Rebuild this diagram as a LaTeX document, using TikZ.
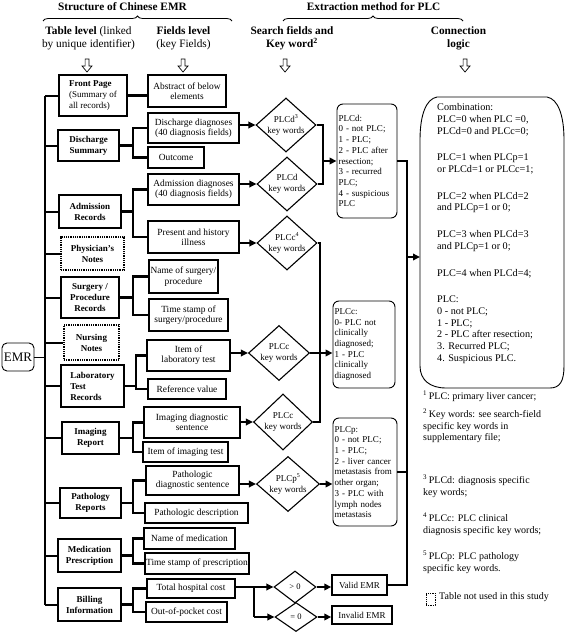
\documentclass[tikz,border=0pt]{standalone}
\usepackage{fontspec}
\setmainfont{Liberation Serif}
\usetikzlibrary{shapes.geometric,arrows.meta,decorations.pathreplacing}
\begin{document}
\begin{tikzpicture}[x=1pt,y=-1pt,
 sz/.style 2 args={minimum width=#1pt, minimum height=#2pt},
 box/.style={draw, line width=1.4pt, inner sep=1pt, align=center, font=\fontsize{9.4}{10.4}\selectfont},
 tbox/.style={box, font=\fontsize{9}{11}\selectfont},
 dbox/.style={tbox, line width=1.3pt, dash pattern=on 1pt off 0.8pt},
 rbox/.style={draw, line width=0.9pt, rounded corners=6pt, inner sep=1.5pt, align=left, font=\fontsize{9}{10.7}\selectfont},
 dia/.style={draw, diamond, line width=1.1pt, inner sep=0pt},
 dtext/.style={align=center, inner sep=0pt, font=\fontsize{9}{11}\selectfont},
 conn/.style={line width=2.4pt},
 spine/.style={line width=2pt},
 arr/.style={line width=2.4pt, -{Triangle[length=7pt,width=6.5pt]}},
 hdr/.style={align=center, inner sep=0pt, font=\fontsize{11.3}{13}\selectfont},
 fn/.style={align=left, inner sep=0pt, anchor=north west, font=\fontsize{10}{11.6}\selectfont},
 brc/.style={line width=0.8pt, decorate, decoration={brace, amplitude=5pt}},
 hollow/.pic={\draw[line width=0.7pt, fill=white] (-1.9,0) -- (1.9,0) -- (1.9,7) -- (5,7) -- (0,13) -- (-5,7) -- (-1.9,7) -- cycle;}
]
\useasboundingbox (0,0) rectangle (567,634);

% ---------- headers ----------
\node[hdr] (h1) at (122.5,7) {\textbf{Structure of Chinese EMR}};
\node[hdr] (h2) at (373.5,7) {\textbf{Extraction method for PLC}};
\draw[brc] (43,21) -- (232,21);
\draw[brc] (283,21) -- (463,21);
\node[hdr] (h3) at (88.5,38.5) {\textbf{Table level} (linked\\by unique identifier)};
\node[hdr] (h4) at (183.5,38.5) {\textbf{Fields level}\\(key Fields)};
\node[hdr] (h5) at (292,38.5) {\textbf{Search fields and}\\\textbf{Key word\textsuperscript{2}}};
\node[hdr] (h6) at (458.5,38.5) {\textbf{Connection}\\\textbf{logic}};
\pic at (87,59) {hollow};
\pic at (183,59) {hollow};
\pic at (285,59) {hollow};
\pic at (465,59) {hollow};

% ---------- EMR ----------
\node[draw, line width=0.9pt, rounded corners=5pt, sz={32}{28}, inner sep=0pt, font=\fontsize{13}{14}\selectfont] (emr) at (18,357) {EMR};

% ---------- table level ----------
\node[tbox, align=left, sz={68}{41}] (front) at (93,95.5) {\textbf{Front Page}\\(Summary of\\all records)};
\node[tbox, sz={61}{31}] (disch) at (88.5,145.5) {\textbf{Discharge}\\\textbf{Summary}};
\node[tbox, sz={62}{33}] (adm) at (90,211.5) {\textbf{Admission}\\\textbf{Records}};
\node[dbox, sz={63}{33}] (phys) at (92.5,253.5) {\textbf{Physician's}\\\textbf{Notes}};
\node[tbox, sz={58}{41}] (surg) at (90,297.5) {\textbf{Surgery /}\\\textbf{Procedure}\\\textbf{Records}};
\node[dbox, sz={55}{35}] (nurs) at (91.5,342.5) {\textbf{Nursing}\\\textbf{Notes}};
\node[tbox, align=left, sz={63}{42}] (lab) at (92.5,386) {\textbf{Laboratory}\\\textbf{Test}\\\textbf{Records}};
\node[tbox, sz={57}{32}] (img) at (90.5,438) {\textbf{Imaging}\\\textbf{Report}};
\node[tbox, sz={61}{30}] (path) at (90.5,503) {\textbf{Pathology}\\\textbf{Reports}};
\node[tbox, sz={63}{33}] (med) at (89.5,555.5) {\textbf{Medication}\\\textbf{Prescription}};
\node[tbox, sz={63}{33}] (bill) at (89.5,604.5) {\textbf{Billing}\\\textbf{Information}};

% ---------- fields level ----------
\node[box, sz={78}{32}] (abs) at (187,91) {Abstract of below\\elements};
\node[box, sz={91}{30}] (ddiag) at (193.5,128) {Discharge diagnoses\\(40 diagnosis fields)};
\node[box, sz={56}{21}] (outc) at (176,157.5) {Outcome};
\node[box, sz={91}{31}] (adiag) at (193.5,189.5) {Admission diagnoses\\(40 diagnosis fields)};
\node[box, sz={91}{32}] (pres) at (193.5,237) {Present and history\\illness};
\node[box, sz={69}{33}] (sname) at (183.5,276.5) {Name of surgery/\\procedure};
\node[box, sz={79}{32}] (stime) at (188.5,315) {Time stamp of\\surgery/procedure};
\node[box, sz={83}{31}] (litem) at (188.5,355.5) {Item of\\laboratory test};
\node[box, sz={78}{20}] (lref) at (187,389) {Reference value};
\node[box, sz={96}{31}] (idiag) at (192,422.5) {Imaging diagnostic\\sentence};
\node[box, sz={85}{20}] (iitem) at (185.5,452) {Item of imaging test};
\node[box, sz={93}{29}] (pdiag) at (192.5,480.5) {Pathologic\\diagnostic sentence};
\node[box, sz={103}{20}] (pdesc) at (196.5,513) {Pathologic description};
\node[box, sz={91}{21}] (mname) at (189.5,538.5) {Name of medication};
\node[box, sz={104}{21}] (mtime) at (197,563.5) {Time stamp of prescription};
\node[box, sz={88}{19}] (tcost) at (191,588.5) {Total hospital cost};
\node[box, sz={81}{20}] (ocost) at (186.5,612) {Out-of-pocket cost};

% ---------- diamonds ----------
\node[dia, sz={60}{54}] (d1) at (286,125) {};
\node[dtext] (d1t) at (d1) {PLCd\textsuperscript{3}\\key words};
\node[dia, sz={60}{54}] (d2) at (287,184) {};
\node[dtext] (d2t) at (d2) {PLCd\\key words};
\node[dia, sz={60}{54}] (d3) at (287,243) {};
\node[dtext] (d3t) at (d3) {PLCc\textsuperscript{4}\\key words};
\node[dia, sz={61}{55}] (d4) at (279,353) {};
\node[dtext] (d4t) at (d4) {PLCc\\key words};
\node[dia, sz={59}{56}] (d5) at (283,422) {};
\node[dtext] (d5t) at (d5) {PLCc\\key words};
\node[dia, sz={63}{55}] (d6) at (288,484) {};
\node[dtext] (d6t) at (d6) {PLCp\textsuperscript{5}\\key words};
\node[dia, sz={42}{32}] (d7) at (295,587) {};
\node[dtext, font=\fontsize{8.5}{10}\selectfont] (d7t) at (d7) {> 0};
\node[dia, sz={42}{29}] (d8) at (296,617) {};
\node[dtext, font=\fontsize{8.5}{10}\selectfont] (d8t) at (d8) {= 0};

% ---------- result boxes ----------
\node[rbox, text width=57pt, sz={60}{114}] (rd) at (367,161) {PLCd:\\0 - not PLC;\\1 - PLC;\\2 - PLC after\\resection;\\3 - recurred\\PLC;\\4 - suspicious\\PLC};
\node[rbox, text width=59pt, sz={62}{87}] (rc) at (364,344.5) {PLCc:\\0- PLC not\\clinically\\diagnosed;\\1 - PLC\\clinically\\diagnosed};
\node[rbox, text width=61pt, sz={64}{108}] (rp) at (365,472) {PLCp:\\0 - not PLC;\\1 - PLC;\\2 - liver cancer\\metastasis from\\other organ;\\3 - PLC with\\lymph nodes\\metastasis};
\node[box, font=\fontsize{9}{10}\selectfont, sz={55}{20}] (valid) at (359.5,585) {Valid EMR};
\node[box, font=\fontsize{9}{10}\selectfont, sz={60}{18}] (invalid) at (362,615) {Invalid EMR};

% ---------- combination ----------
\draw[line width=0.9pt] (437,97) -- (547,97) .. controls (558,99) and (564,115) .. (564,140) -- (564,366) .. controls (564,381) and (560,388) .. (550,388) -- (446,388) .. controls (430,388) and (420,380) .. (420,366) -- (420,140) .. controls (420,115) and (426,99) .. (437,97) -- cycle;
\node[align=left, inner sep=0pt, anchor=north west, font=\fontsize{10.2}{11.7}\selectfont] (comb) at (437,103.5) {Combination:\\PLC=0 when PLC =0,\\PLCd=0 and PLCc=0;\\[15pt]PLC=1 when PLCp=1\\or PLCd=1 or PLCc=1;\\[15pt]PLC=2 when PLCd=2\\and PLCp=1 or 0;\\[15pt]PLC=3 when PLCd=3\\and PLCp=1 or 0;\\[15pt]PLC=4 when PLCd=4;\\[15pt]PLC:\\0 - not PLC;\\1 - PLC;\\2 - PLC after resection;\\3. Recurred PLC;\\4. Suspicious PLC.};
\coordinate (combw) at (420,257);

% ---------- footnotes ----------
\node[fn] (f1) at (423,391) {\textsuperscript{1}\,PLC: primary liver cancer;};
\node[fn] (f2) at (423,409) {\textsuperscript{2}\,Key words: see search-field\\specific key words in\\supplementary file;};
\node[fn] (f3) at (423,475) {\textsuperscript{3}\,PLCd: diagnosis specific\\key words;};
\node[fn] (f4) at (423,513) {\textsuperscript{4}\,PLCc: PLC clinical\\diagnosis specific key words;};
\node[fn] (f5) at (423,551) {\textsuperscript{5}\,PLCp: PLC pathology\\specific key words.};
\node[draw, line width=1pt, dash pattern=on 1pt off 0.8pt, sz={9}{12}, inner sep=0pt] (leg) at (430.5,599) {};
\node[anchor=west, inner sep=0pt, font=\fontsize{10}{11.6}\selectfont] (legt) at (439,597.5) {Table not used in this study};

% ---------- connectors: spine ----------
\coordinate (sp) at (45,0);
\draw[spine] (front.west -| sp) -- (bill.west -| sp);
\foreach \n in {front,disch,adm,phys,surg,nurs,lab,img,path,med,bill}
  \draw[spine] (\n.west -| sp) -- (\n.west);
\draw[line width=0.9pt] (emr.east) -- (emr.east -| sp);

% ---------- table -> fields ----------
\draw[conn] (front.east) -- (front.east -| abs.west);
\coordinate (bx) at (133,0);
\coordinate (bxl) at (136,0);
\draw[conn] (disch.east) -- (disch.east -| bx);
\draw[conn] (ddiag.west) -- (ddiag.west -| bx) -- (outc.west -| bx) -- (outc.west);
\draw[conn] (adm.east) -- (adm.east -| bx);
\draw[conn] (adiag.west) -- (adiag.west -| bx) -- (pres.west -| bx) -- (pres.west);
\draw[conn] (surg.east) -- (surg.east -| bx);
\draw[conn] (sname.west) -- (sname.west -| bx) -- (stime.west -| bx) -- (stime.west);
\draw[conn] (lab.east) -- (lab.east -| bxl);
\draw[conn] (litem.west) -- (litem.west -| bxl) -- (lref.west -| bxl) -- (lref.west);
\draw[conn] (img.east) -- (img.east -| bx);
\draw[conn] (idiag.west) -- (idiag.west -| bx) -- (iitem.west -| bx) -- (iitem.west);
\draw[conn] (path.east) -- (path.east -| bx);
\draw[conn] (pdiag.west) -- (pdiag.west -| bx) -- (pdesc.west -| bx) -- (pdesc.west);
\draw[conn] (med.east) -- (med.east -| bx);
\draw[conn] (mname.west) -- (mname.west -| bx) -- (mtime.west -| bx) -- (mtime.west);
\draw[conn] (bill.east) -- (bill.east -| bx);
\draw[conn] (tcost.west) -- (tcost.west -| bx) -- (ocost.west -| bx) -- (ocost.west);

% ---------- fields -> diamonds ----------
\draw[arr] (ddiag.east |- d1.west) -- (d1.west);
\draw[arr] (adiag.east |- d2.west) -- (d2.west);
\draw[arr] (pres.east |- d3.west) -- (d3.west);
\draw[arr] (litem.east |- d4.west) -- (d4.west);
\draw[arr] (idiag.east |- d5.west) -- (d5.west);
\draw[arr] (pdiag.east |- d6.west) -- (d6.west);
\coordinate (j3) at (254,0);
\draw[arr] (tcost.east |- d7.west) -- (d7.west);
\draw[conn] (tcost.east |- d7.west -| j3) -- (j3 |- d8.west);
\draw[arr] (j3 |- d8.west) -- (d8.west);

% ---------- diamonds -> results ----------
\coordinate (j1) at (323,0);
\draw[conn] (d1.east) -- (d1.east -| j1) -- (d2.east -| j1) -- (d2.east);
\draw[arr] (rd.west -| j1) -- (rd.west);
\coordinate (j2) at (320,0);
\draw[conn] (d3.east) -- (d3.east -| j2) -- (d5.east -| j2) -- (d5.east);
\draw[arr] (d4.east) -- (d4.east -| rc.west);
\draw[arr] (d6.east) -- (d6.east -| rp.west);
\draw[arr] (d7.east) -- (d7.east -| valid.west);
\draw[arr] (d8.east) -- (d8.east -| invalid.west);

% ---------- results -> combination ----------
\coordinate (j4) at (407,0);
\draw[conn] (rd.east) -- (rd.east -| j4) -- (valid.east -| j4) -- (valid.east);
\draw[conn] (rp.east) -- (rp.east -| j4);
\draw[arr] (combw -| j4) -- (combw);
\end{tikzpicture}
\end{document}
